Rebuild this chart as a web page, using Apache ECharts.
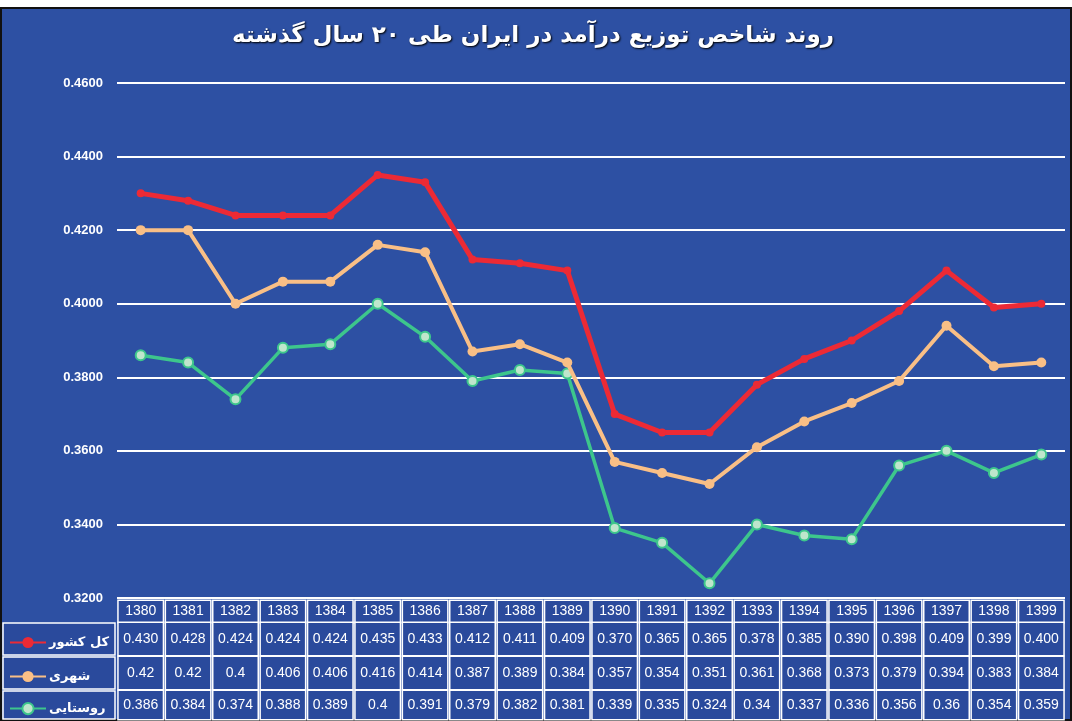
<!DOCTYPE html>
<html>
<head>
<meta charset="utf-8">
<script src="https://cdn.jsdelivr.net/npm/echarts@6/dist/echarts.min.js"></script>
<style>
  html, body { margin: 0; padding: 0; background: #fff; }
  #main { width: 1072px; height: 721px; }
</style>
</head>
<body>
<div id="main"></div>
<script>
// years (categories)
const years = ["1380", "1381", "1382", "1383", "1384", "1385", "1386", "1387", "1388", "1389",
  "1390", "1391", "1392", "1393", "1394", "1395", "1396", "1397", "1398", "1399"];

// کل کشور
const total = [0.430, 0.428, 0.424, 0.424, 0.424, 0.435, 0.433, 0.412, 0.411, 0.409,
  0.370, 0.365, 0.365, 0.378, 0.385, 0.390, 0.398, 0.409, 0.399, 0.400];
const totalText = ["0.430", "0.428", "0.424", "0.424", "0.424", "0.435", "0.433", "0.412", "0.411", "0.409",
  "0.370", "0.365", "0.365", "0.378", "0.385", "0.390", "0.398", "0.409", "0.399", "0.400"];

// شهری
const urban = [0.42, 0.42, 0.4, 0.406, 0.406, 0.416, 0.414, 0.387, 0.389, 0.384,
  0.357, 0.354, 0.351, 0.361, 0.368, 0.373, 0.379, 0.394, 0.383, 0.384];
const urbanText = ["0.42", "0.42", "0.4", "0.406", "0.406", "0.416", "0.414", "0.387", "0.389", "0.384",
  "0.357", "0.354", "0.351", "0.361", "0.368", "0.373", "0.379", "0.394", "0.383", "0.384"];

// روستایی
const rural = [0.386, 0.384, 0.374, 0.388, 0.389, 0.4, 0.391, 0.379, 0.382, 0.381,
  0.339, 0.335, 0.324, 0.34, 0.337, 0.336, 0.356, 0.36, 0.354, 0.359];
const ruralText = ["0.386", "0.384", "0.374", "0.388", "0.389", "0.4", "0.391", "0.379", "0.382", "0.381",
  "0.339", "0.335", "0.324", "0.34", "0.337", "0.336", "0.356", "0.36", "0.354", "0.359"];

const names = ["کل کشور", "شهری", "روستایی"];
const yTicks = { min: 0.32, max: 0.46, interval: 0.02 };

const blue = "#2d50a3";
const cellBg = "#2a4a9c";
const cellFont = '"Liberation Sans Narrow", "Liberation Sans", Arial, sans-serif';

function tableAxis(data, offset, height, size) {
  return {
    type: "category",
    data: data,
    gridIndex: 0,
    position: "bottom",
    offset: offset,
    axisLine: { show: false },
    axisTick: { show: false },
    splitLine: { show: false },
    axisLabel: {
      interval: 0,
      margin: 3,
      color: "#fff",
      fontFamily: cellFont,
      fontSize: size,
      width: 44,
      height: height,
      lineHeight: height,
      align: "center",
      backgroundColor: cellBg,
      borderColor: "#fff",
      borderWidth: 1.5
    }
  };
}

function legendRow(name, top) {
  return {
    orient: "horizontal",
    left: 4,
    top: top,
    itemWidth: 36,
    itemHeight: 14,
    data: [name],
    textStyle: {
      color: "#fff",
      fontSize: 13,
      fontWeight: "bold",
      fontFamily: '"DejaVu Sans", sans-serif',
      padding: [0, 0, 0, -2]
    }
  };
}

function cellRect(y, h) {
  return {
    type: "rect", z: -50, silent: true,
    shape: { x: 3, y: y, width: 112, height: h },
    style: { fill: cellBg, stroke: "#fff", lineWidth: 1.5 }
  };
}

const chart = echarts.init(document.getElementById("main"));

const option = {
  backgroundColor: "#fff",
  animation: false,
  title: {
    text: "روند شاخص توزیع درآمد در ایران طی ۲۰ سال گذشته",
    left: 528,
    top: 20,
    textAlign: "center",
    textStyle: {
      color: "#fff",
      fontSize: 23,
      fontWeight: "bold",
      fontFamily: '"DejaVu Sans", sans-serif',
      textShadowColor: "#000",
      textShadowBlur: 2,
      textShadowOffsetX: 1,
      textShadowOffsetY: 1
    }
  },
  graphic: [
    {
      type: "rect",
      z: -100,
      silent: true,
      shape: { x: 1, y: 8, width: 1070, height: 712 },
      style: { fill: blue, stroke: "#111", lineWidth: 2 }
    },
    cellRect(623, 32),
    cellRect(657, 32),
    cellRect(691, 28)
  ],
  legend: [
    legendRow(names[0], 631),
    legendRow(names[1], 665),
    legendRow(names[2], 697)
  ],
  grid: {
    top: 83,
    bottom: 123,
    left: 117,
    right: 7,
    containLabel: false
  },
  xAxis: [
    tableAxis(years, 0, 21, 14),
    tableAxis(totalText, 22, 32, 14),
    tableAxis(urbanText, 56, 32, 14),
    tableAxis(ruralText, 90, 28, 14)
  ],
  yAxis: {
    type: "value",
    min: yTicks.min,
    max: yTicks.max,
    interval: yTicks.interval,
    axisLine: { show: false },
    axisTick: { show: false },
    splitLine: {
      show: true,
      lineStyle: { color: "#fff", width: 2 }
    },
    axisLabel: {
      margin: 14,
      color: "#fff",
      fontSize: 13,
      fontWeight: "bold",
      fontFamily: '"Liberation Sans", Arial, sans-serif',
      formatter: v => v.toFixed(4)
    }
  },
  series: [
    {
      name: names[0],
      type: "line",
      data: total,
      symbol: "circle",
      symbolSize: 8,
      z: 5,
      lineStyle: { color: "#ec2a35", width: 5 },
      itemStyle: { color: "#ec2a35" }
    },
    {
      name: names[1],
      type: "line",
      data: urban,
      symbol: "circle",
      symbolSize: 10,
      z: 4,
      lineStyle: { color: "#f9bf86", width: 4 },
      itemStyle: { color: "#f9bf86" }
    },
    {
      name: names[2],
      type: "line",
      data: rural,
      symbol: "circle",
      symbolSize: 10,
      z: 3,
      lineStyle: { color: "#3dc68c", width: 3.5 },
      itemStyle: { color: "#bfe6cc", borderColor: "#3dc68c", borderWidth: 2 }
    }
  ]
};

chart.setOption(option);
</script>
</body>
</html>
